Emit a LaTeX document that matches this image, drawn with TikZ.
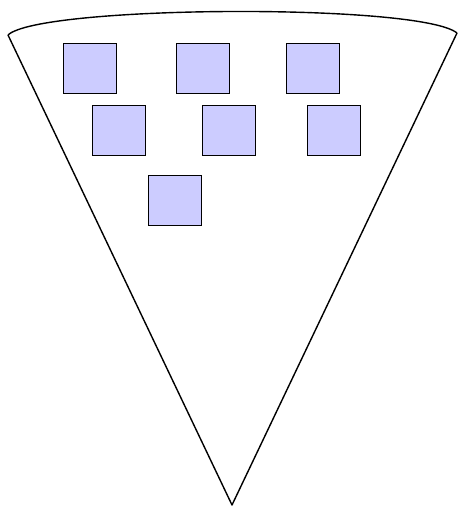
\documentclass[tikz,border=0pt]{standalone}
\begin{document}
\begin{tikzpicture}[x=1pt,y=-1pt,
  sq/.style={draw=black,fill={rgb,255:red,204;green,204;blue,255},line width=1.2pt,minimum width=53pt,minimum height=50pt,inner sep=0pt,anchor=north west},
  cone/.style={draw=black,line width=1.4pt,line join=round}]
\useasboundingbox (0,0) rectangle (458,510);
\coordinate (tl) at (8,35);
\coordinate (tr) at (457,33);
\coordinate (apex) at (232,505);
\draw[cone] (tl) .. controls (40,5) and (420,3) .. (tr);
\draw[cone] (tl) -- (apex) -- (tr);
\node[sq] (s1) at (63,43) {};
\node[sq] (s2) at (176,43) {};
\node[sq] (s3) at (285.5,43) {};
\node[sq] (s4) at (92,105) {};
\node[sq] (s5) at (202,105) {};
\node[sq] (s6) at (307,105) {};
\node[sq] (s7) at (147.5,175) {};
\end{tikzpicture}
\end{document}
